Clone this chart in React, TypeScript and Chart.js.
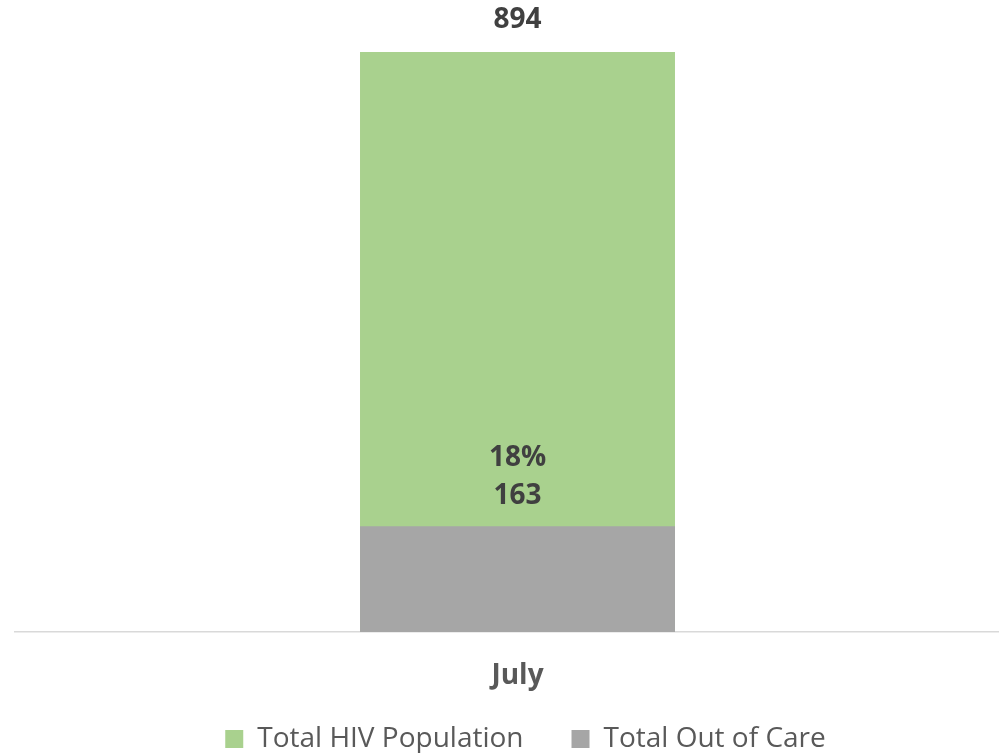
import React, { useEffect, useRef } from "react";
import { Chart, registerables } from "chart.js";

Chart.register(...registerables);

const categories = ["July"];
const totalHivPopulation = [894];
const totalOutOfCare = [163];
const outOfCarePercent = ["18%"];

const FONT = "'Open Sans', 'Noto Sans', sans-serif";

const labelPlugin = {
  id: "barLabels",
  afterDatasetsDraw(chart: any) {
    const ctx = chart.ctx;
    ctx.save();
    ctx.fillStyle = "#404040";
    ctx.font = `bold 28px ${FONT}`;
    ctx.textAlign = "center";
    ctx.textBaseline = "middle";
    const m0 = chart.getDatasetMeta(0);
    const m1 = chart.getDatasetMeta(1);
    m0.data.forEach((el: any, i: number) => {
      ctx.fillText(String(totalHivPopulation[i]), el.x, el.y - 32);
    });
    m1.data.forEach((el: any, i: number) => {
      ctx.fillText(String(totalOutOfCare[i]), el.x, el.y - 30);
      ctx.fillText(outOfCarePercent[i], el.x, el.y - 68);
    });
    ctx.restore();
  },
};

const legendShift = {
  id: "legendShift",
  afterLayout(chart: any) {
    const lg = chart.legend;
    if (lg) {
      lg.left += 8;
      lg.right += 8;
      lg.top -= 16;
      lg.bottom -= 16;
    }
  },
};

export default function App() {
  const ref = useRef<HTMLCanvasElement>(null);
  useEffect(() => {
    document.body.style.margin = "0";
    const chart = new Chart(ref.current!, {
      type: "bar",
      data: {
        labels: categories,
        datasets: [
          {
            label: "Total HIV Population",
            data: totalHivPopulation,
            backgroundColor: "#a9d18e",
            order: 1,
          },
          {
            label: "Total Out of Care",
            data: totalOutOfCare,
            backgroundColor: "#a6a6a6",
            order: 0,
          },
        ],
      },
      options: {
        responsive: false,
        animation: false,
        devicePixelRatio: 1,
        layout: { padding: { left: 15, right: 0, top: 0, bottom: 0 } },
        datasets: { bar: { barPercentage: 0.3134, categoryPercentage: 1 } },
        scales: {
          x: {
            stacked: true,
            grid: { display: false, drawTicks: false },
            border: { display: true, color: "#d9d9d9", width: 1.5 },
            ticks: {
              color: "#595959",
              font: { family: FONT, size: 28, weight: "bold" },
              padding: 27,
            },
            afterFit(scale: any) {
              scale.height = 61;
            },
          },
          y: {
            display: false,
            stacked: false,
            min: 0,
            max: 974,
          },
        },
        plugins: {
          legend: {
            position: "bottom",
            labels: {
              sort: (a: any, b: any) => a.datasetIndex - b.datasetIndex,
              boxWidth: 18,
              boxHeight: 18,
              color: "#595959",
              font: { family: FONT, size: 28 },
              padding: 48,
            },
          },
          tooltip: { enabled: false },
        },
      },
      plugins: [labelPlugin, legendShift],
    });
    return () => chart.destroy();
  }, []);
  return (
    <div style={{ width: 999, height: 753, overflow: "hidden" }}>
      <canvas ref={ref} width={1020} height={779} style={{ display: "block" }} />
    </div>
  );
}
